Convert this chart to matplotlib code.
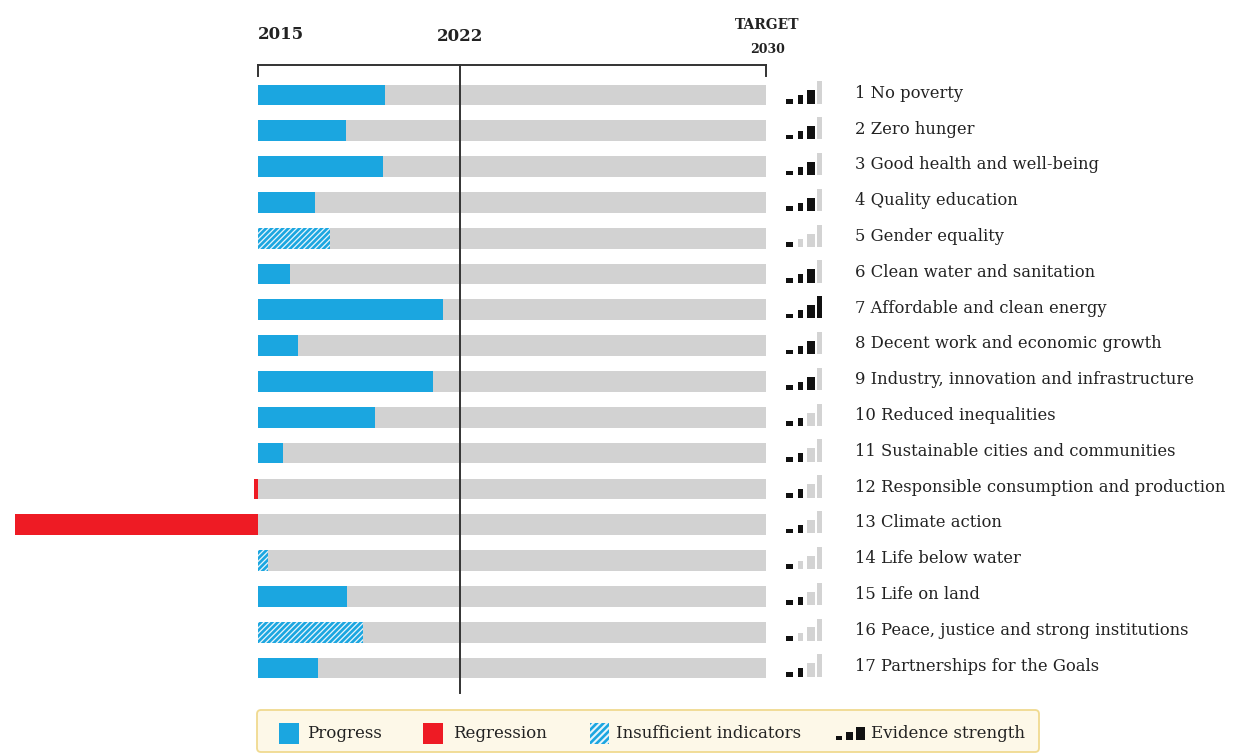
import matplotlib
matplotlib.use("Agg")
import matplotlib.pyplot as plt
from matplotlib.patches import Rectangle, FancyBboxPatch

plt.rcParams['font.family'] = ['DejaVu Serif', 'Liberation Serif']
plt.rcParams['hatch.linewidth'] = 1.9

goals = ["1 No poverty", "2 Zero hunger", "3 Good health and well-being",
         "4 Quality education", "5 Gender equality", "6 Clean water and sanitation",
         "7 Affordable and clean energy", "8 Decent work and economic growth",
         "9 Industry, innovation and infrastructure", "10 Reduced inequalities",
         "11 Sustainable cities and communities",
         "12 Responsible consumption and production", "13 Climate action",
         "14 Life below water", "15 Life on land",
         "16 Peace, justice and strong institutions", "17 Partnerships for the Goals"]
# progress toward 2030 target, % (negative = regression)
progress = [25.0, 17.3, 24.6, 11.2, 14.2, 6.3, 36.4, 7.9, 34.4, 23.0, 4.9,
            -0.7, -47.8, 2.0, 17.5, 20.7, 11.8]
status = ["progress", "progress", "progress", "progress", "insufficient",
          "progress", "progress", "progress", "progress", "progress", "progress",
          "regression", "regression", "insufficient", "progress", "insufficient",
          "progress"]
evidence = [3, 3, 3, 3, 1, 3, 4, 3, 3, 2, 2, 2, 2, 1, 2, 1, 2]
target = 100
year_2022 = 39.8
header_labels = ["2015", "2022", "TARGET", "2030"]
legend_labels = ["Progress", "Regression", "Insufficient indicators", "Evidence strength"]

BLUE = "#1ba6e0"
RED = "#ee1b24"
GRAY = "#d2d2d2"
HATCH_BG = "#e6f4fb"
TXT = "#222222"

W, H, DPI = 1242, 756, 100
fig = plt.figure(figsize=(W / DPI, H / DPI), dpi=DPI)
ax = fig.add_axes([0, 0, 1, 1])
px = 508 / 100.0          # pixels per unit
x0 = 258
ax.set_xlim(-x0 / px, (W - x0) / px)
row = 35.81
y0 = 95
ax.set_ylim((H - y0) / row, -y0 / row)
ax.axis('off')

n = len(goals)
ys = list(range(n))
bh = 0.58

# background (gray) bars
ax.barh(ys, [target] * n, height=bh, color=GRAY, zorder=1)
for i, (v, s) in enumerate(zip(progress, status)):
    if s == "progress":
        ax.barh(i, v, height=bh, color=BLUE, zorder=2)
    elif s == "regression":
        ax.barh(i, v, height=bh, color=RED, zorder=2)
    else:
        ax.barh(i, v, height=bh, color=HATCH_BG, edgecolor=BLUE, hatch="//////",
                linewidth=0, zorder=2)

# bracket and 2022 line
yb = -0.84
lc = "#333333"
ax.plot([0, target], [yb, yb], color=lc, lw=1.4, zorder=3)
ax.plot([0, 0], [yb, yb + 0.3], color=lc, lw=1.4, zorder=3)
ax.plot([target, target], [yb, yb + 0.3], color=lc, lw=1.4, zorder=3)
ax.plot([year_2022, year_2022], [yb, n - 0.3], color=lc, lw=1.4, zorder=4)

ax.text(0, -1.7, header_labels[0], fontsize=12, fontweight='bold', ha='left',
        va='center', color=TXT)
ax.text(year_2022, -1.62, header_labels[1], fontsize=12, fontweight='bold',
        ha='center', va='center', color=TXT)
ax.text(target + 0.3, -1.96, header_labels[2], fontsize=10, fontweight='bold',
        ha='center', va='center', color=TXT)
ax.text(target + 0.3, -1.28, header_labels[3], fontsize=9, fontweight='bold',
        ha='center', va='center', color=TXT)

# evidence strength icons
offs = [0, 2.35, 4.1, 6.1]
widths = [1.35, 1.0, 1.55, 1.0]
heights = [0.13, 0.23, 0.37, 0.62]
for i, e in enumerate(evidence):
    xs = (786 - x0) / px
    for k in range(4):
        c = "#111111" if k < e else "#d3d3d3"
        ax.add_patch(Rectangle((xs + offs[k], i + 0.24), widths[k], -heights[k],
                               color=c, zorder=5, lw=0))

for i, g in enumerate(goals):
    ax.text((855 - x0) / px, i - 0.05, g, fontsize=11.8, ha='left', va='center',
            color=TXT)

# legend
lax = fig.add_axes([0, 0, 1, 1])
lax.set_xlim(0, W)
lax.set_ylim(H, 0)
lax.axis('off')
lax.add_patch(FancyBboxPatch((257, 710), 782, 42, boxstyle="round,pad=0,rounding_size=4",
                             facecolor="#fdf8e8", edgecolor="#f0da90", lw=1.3))
ym = 733
lax.add_patch(Rectangle((279, ym - 10), 20, 21, color=BLUE, lw=0))
lax.text(307, ym, legend_labels[0], fontsize=12, va='center', color=TXT)
lax.add_patch(Rectangle((423, ym - 10), 20, 21, color=RED, lw=0))
lax.text(453, ym, legend_labels[1], fontsize=12, va='center', color=TXT)
lax.add_patch(Rectangle((590, ym - 10), 19, 21, facecolor=HATCH_BG, edgecolor=BLUE,
                        hatch="/////", lw=0))
lax.text(616, ym, legend_labels[2], fontsize=12, va='center', color=TXT)
for dx, w, h in [(0, 6, 4), (10, 7, 8), (20, 9, 13)]:
    lax.add_patch(Rectangle((836 + dx, ym + 7), w, -h, color="#111111", lw=0))
lax.text(871, ym, legend_labels[3], fontsize=12, va='center', color=TXT)

fig.savefig("out.png", dpi=DPI, facecolor="white")
